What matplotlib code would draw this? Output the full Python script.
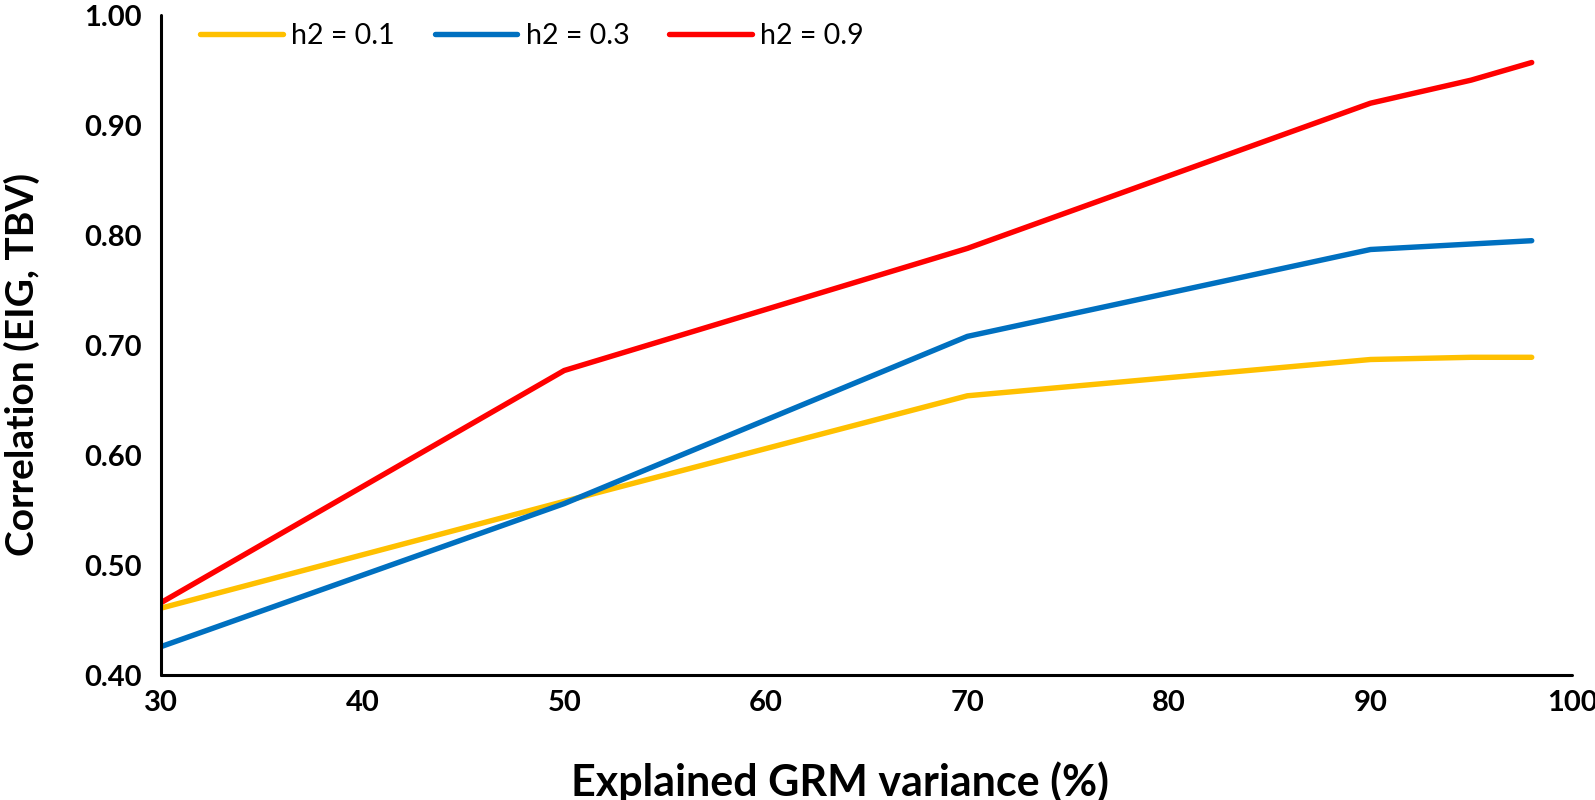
import matplotlib.pyplot as plt

plt.rcParams["font.family"] = ["Lato", "DejaVu Sans"]

explained = [30, 50, 70, 90, 95, 98]
h2_01 = [0.461, 0.558, 0.654, 0.687, 0.689, 0.689]
h2_03 = [0.426, 0.556, 0.708, 0.787, 0.792, 0.795]
h2_09 = [0.466, 0.677, 0.788, 0.920, 0.941, 0.957]

xticks = [30, 40, 50, 60, 70, 80, 90, 100]
yticks = [0.40, 0.50, 0.60, 0.70, 0.80, 0.90, 1.00]

fig = plt.figure(figsize=(15.95, 8), dpi=100)
ax = fig.add_axes([0.101, 0.156, 0.8846, 0.825])

lw = 3.9
ax.plot(explained, h2_01, color="#FFC000", lw=lw, label="h2 = 0.1", solid_capstyle="round")
ax.plot(explained, h2_03, color="#0070C0", lw=lw, label="h2 = 0.3", solid_capstyle="round")
ax.plot(explained, h2_09, color="#FF0000", lw=lw, label="h2 = 0.9", solid_capstyle="round")

ax.set_xlim(30, 100)
ax.set_ylim(0.40, 1.00)
ax.set_xticks(xticks)
ax.set_xticklabels([str(v) for v in xticks])
ax.set_yticks(yticks)
ax.set_yticklabels([f"{v:.2f}" for v in yticks])
ax.tick_params(length=0, labelsize=21)
ax.tick_params(axis="x", pad=11)
ax.tick_params(axis="y", pad=14)
for lab in ax.get_xticklabels() + ax.get_yticklabels():
    lab.set_fontweight("bold")

for s in ["top", "right"]:
    ax.spines[s].set_visible(False)
for s in ["left", "bottom"]:
    ax.spines[s].set_linewidth(2.2)
    ax.spines[s].set_color("black")
    ax.spines[s].set_capstyle("round")

ax.set_xlabel("Explained GRM variance (%)", fontsize=31, fontweight="bold", va="center")
ax.xaxis.set_label_coords(0.481, -0.162)
ax.set_ylabel("Correlation (EIG, TBV)", fontsize=28, fontweight="bold", va="center")
ax.yaxis.set_label_coords(-0.0985, 0.471)

fig.legend(loc="center left", bbox_to_anchor=(0.1254, 0.955), ncol=3, frameon=False,
           fontsize=20.5, handlelength=2.9, handletextpad=0.3, columnspacing=1.4,
           borderpad=0, borderaxespad=0)

fig.savefig("out.png", dpi=100)
